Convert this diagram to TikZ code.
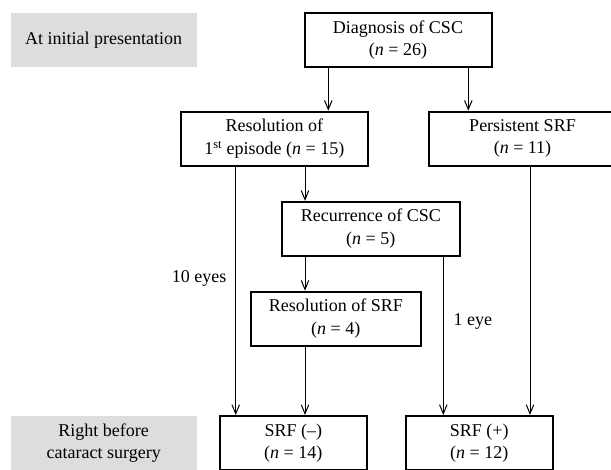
\documentclass[tikz,border=0pt]{standalone}
\usepackage{fontspec}
\setmainfont{Liberation Serif}
\usepackage{xcolor}
\usetikzlibrary{arrows.meta}

\definecolor{stagegray}{RGB}{220,221,223}

\tikzset{
  box/.style={draw, line width=2pt, align=center, minimum height=54pt, inner sep=0pt},
  stage/.style={fill=stagegray, align=center, minimum width=186pt, minimum height=54pt, inner sep=0pt},
  arr/.style={-{Straight Barb[length=9pt,width=7.5pt]}, line width=1pt},
}

\begin{document}
\begin{tikzpicture}[x=1pt, y=-1pt, every node/.style={font=\fontsize{18}{22.5}\selectfont}]
        \useasboundingbox (0,0) rectangle (611,469);
        \clip (0,0) rectangle (611,469);

        % stage labels
        \node[stage] (initial) at (103.7, 40.3) {At initial presentation};
        \node[stage] (before)  at (103.7, 443)  {Right before\\cataract surgery};

        % top row
        \node[box, minimum width=187pt] (diag) at (398, 40) {Diagnosis of CSC\\(\textit{n} = 26)};

        % second row
        \node[box, minimum width=187pt] (res1) at (274.3, 138.7) {Resolution of\\1\textsuperscript{st} episode (\textit{n} = 15)};
        \node[box, minimum width=187pt] (pers) at (522.5, 138.7) {Persistent SRF\\(\textit{n} = 11)};

        % middle boxes
        \node[box, minimum width=178pt] (rec)   at (370.8, 228.8) {Recurrence of CSC\\(\textit{n} = 5)};
        \node[box, minimum width=170pt] (resrf) at (335.8, 318.7) {Resolution of SRF\\(\textit{n} = 4)};

        % bottom row
        \node[box, minimum width=147pt] (neg) at (293.3, 443) {SRF (--)\\(\textit{n} = 14)};
        \node[box, minimum width=147pt] (pos) at (479.3, 443) {SRF (+)\\(\textit{n} = 12)};

        % columns of the arrows
        \coordinate (colA) at (235.7, 0); % 10 eyes
        \coordinate (colB) at (305,   0); % recurrence
        \coordinate (colC) at (328.3, 0); % left of diagnosis
        \coordinate (colD) at (443.3, 0); % 1 eye
        \coordinate (colE) at (468.3, 0); % right of diagnosis
        \coordinate (colF) at (530,   0); % persistent

        % arrows
        \draw[arr] (diag.south -| colC)  -- (res1.north -| colC);
        \draw[arr] (diag.south -| colE)  -- (pers.north -| colE);
        \draw[arr] (res1.south -| colA)  -- (neg.north -| colA);
        \draw[arr] (res1.south -| colB)  -- (rec.north -| colB);
        \draw[arr] (rec.south -| colB)   -- (resrf.north -| colB);
        \draw[arr] (resrf.south -| colB) -- (neg.north -| colB);
        \draw[arr] (rec.south -| colD)   -- (pos.north -| colD);
        \draw[arr] (pers.south -| colF)  -- (pos.north -| colF);

        % edge labels
        \node[anchor=east] (eyes10) at (230, 278.3) {10 eyes};
        \node[anchor=west] (eye1)   at (450, 321.7) {1 eye};
\end{tikzpicture}
\end{document}
